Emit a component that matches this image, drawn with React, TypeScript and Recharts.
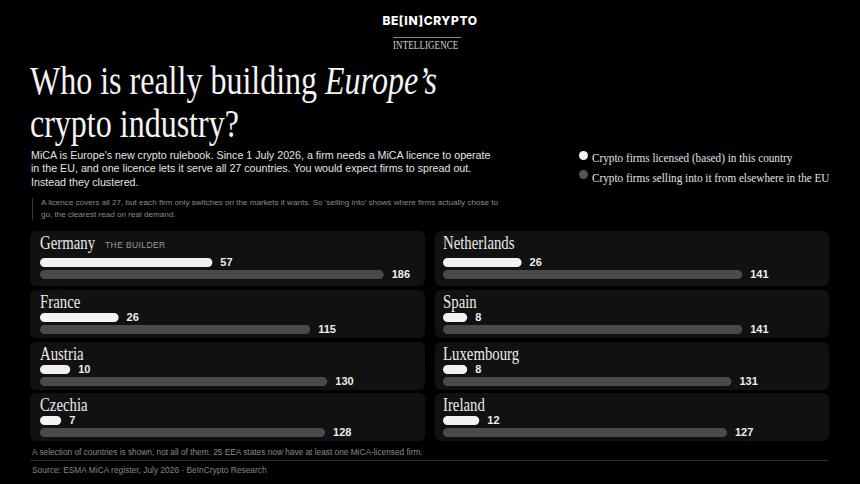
import * as React from "react";
import { BarChart, Bar, XAxis, YAxis, LabelList } from "recharts";

// Order: left column top→bottom, then right column top→bottom
const COUNTRIES = ["Germany", "France", "Austria", "Czechia", "Netherlands", "Spain", "Luxembourg", "Ireland"];
const LICENSED = [57, 26, 10, 7, 26, 8, 8, 12];
const SELLING = [186, 115, 130, 128, 141, 141, 131, 127];
const TAGS: Record<string, string> = { Germany: "THE BUILDER" };

const LICENSED_DOMAIN = [0, 125];
const SELLING_DOMAIN = [0, 225];

const BG = "#000000";
const PANEL_BG = "#111111";
const COR_LICENCIADO = "#f2f2f2";
const COR_VENDENDO = "#4a4a4a";
const SERIF = "'Liberation Serif', 'Times New Roman', serif";
const SANS = "'Liberation Sans', Arial, sans-serif";

const PLOT_W = 378;
const ROW_TOPS = [231, 290, 342, 393];
const ROW_HEIGHTS = [55, 48, 48, 48];
const COLS = [
  { panelX: 30, panelW: 395, contentX: 40 },
  { panelX: 435, panelW: 394, contentX: 443 },
];

// condensed serif — the reference uses a narrow display serif, so squeeze Liberation
function Serif({ size, scale = 0.8, italic, children }: { size: number; scale?: number; italic?: boolean; children: React.ReactNode }) {
  return (
    <span
      style={{
        display: "inline-block",
        fontFamily: SERIF,
        fontSize: size,
        fontStyle: italic ? "italic" : "normal",
        transform: `scaleX(${scale})`,
        transformOrigin: "0 0",
        whiteSpace: "nowrap",
      }}
    >
      {children}
    </span>
  );
}

function BarRow({ value, kind }: { value: number; kind: "lic" | "sell" }) {
  const isLic = kind === "lic";
  return (
    <BarChart
      width={PLOT_W}
      height={13}
      data={[{ name: kind, value }]}
      layout="vertical"
      margin={{ top: 0, right: 0, bottom: 0, left: 0 }}
      style={{ overflow: "visible" }}
    >
      <XAxis type="number" hide domain={isLic ? LICENSED_DOMAIN : SELLING_DOMAIN} scale={isLic ? "linear" : "sqrt"} />
      <YAxis type="category" dataKey="name" hide />
      <Bar dataKey="value" fill={isLic ? COR_LICENCIADO : COR_VENDENDO} barSize={9} radius={4.5} isAnimationActive={false}>
        <LabelList
          dataKey="value"
          position="right"
          offset={8}
          fill="#ededed"
          fontSize={11}
          fontFamily={SANS}
          fontWeight={600}
        />
      </Bar>
    </BarChart>
  );
}

function Painel({ i }: { i: number }) {
  const col = COLS[Math.floor(i / 4)];
  const row = i % 4;
  const top = ROW_TOPS[row];
  const h = ROW_HEIGHTS[row];
  const extra = row === 0 ? 4.5 : 0;
  const nome = COUNTRIES[i];
  const tag = TAGS[nome];
  return (
    <>
      <div
        style={{
          position: "absolute",
          left: col.panelX,
          top,
          width: col.panelW,
          height: h,
          background: PANEL_BG,
          borderRadius: 6,
        }}
      />
      <div style={{ position: "absolute", left: col.contentX, top: top + 3, lineHeight: "18px", color: "#ececec" }}>
        <Serif size={18.5}>{nome}</Serif>
      </div>
      {tag && (
        <div
          style={{
            position: "absolute",
            left: col.contentX + 65,
            top: top + 9,
            fontFamily: SANS,
            fontSize: 8.5,
            letterSpacing: 0.4,
            color: "#9a9a9a",
            lineHeight: "10px",
          }}
        >
          {tag}
        </div>
      )}
      <div style={{ position: "absolute", left: col.contentX, top: top + 20.5 + extra }}>
        <BarRow value={LICENSED[i]} kind="lic" />
      </div>
      <div style={{ position: "absolute", left: col.contentX, top: top + 32.5 + extra }}>
        <BarRow value={SELLING[i]} kind="sell" />
      </div>
    </>
  );
}

export default function App() {
  return (
    <div style={{ position: "absolute", left: 0, top: 0, width: 860, height: 484, background: BG, overflow: "hidden", color: "#fff" }}>
      {/* logo */}
      <div
        style={{
          position: "absolute",
          left: 0,
          width: 860,
          top: 14,
          textAlign: "center",
          fontFamily: "Inter, sans-serif",
          fontWeight: 800,
          fontSize: 12,
          letterSpacing: 0.6,
          lineHeight: "14px",
        }}
      >
        BE[IN]CRYPTO
      </div>
      <div style={{ position: "absolute", left: 393, top: 37, width: 68, height: 1, background: "#8a8a8a" }} />
      <div style={{ position: "absolute", left: 393, top: 38, lineHeight: "12px", color: "#d8d8d8" }}>
        <span style={{ letterSpacing: 0.2 }}>
          <Serif size={12} scale={0.74}>INTELLIGENCE</Serif>
        </span>
      </div>

      {/* title */}
      <div style={{ position: "absolute", left: 30, top: 63, lineHeight: "35px", color: "#f4f4f4" }}>
        <div>
          <Serif size={40} scale={0.8}>
            Who is really building <i>Europe’s</i>
          </Serif>
        </div>
        <div>
          <Serif size={40} scale={0.8}>crypto industry?</Serif>
        </div>
      </div>

      {/* intro */}
      <div
        style={{
          position: "absolute",
          left: 31,
          top: 148.5,
          fontFamily: SANS,
          fontSize: 10.7,
          lineHeight: "13.5px",
          color: "#e4e4e4",
          whiteSpace: "nowrap",
        }}
      >
        MiCA is Europe's new crypto rulebook. Since 1 July 2026, a firm needs a MiCA licence to operate
        <br />
        in the EU, and one licence lets it serve all 27 countries. You would expect firms to spread out.
        <br />
        Instead they clustered.
      </div>
      <div style={{ position: "absolute", left: 32, top: 198, width: 1, height: 22, background: "#3a3a3a" }} />
      <div
        style={{
          position: "absolute",
          left: 41,
          top: 197,
          fontFamily: SANS,
          fontSize: 8.1,
          lineHeight: "12px",
          color: "#8c8c8c",
          whiteSpace: "nowrap",
        }}
      >
        A licence covers all 27, but each firm only switches on the markets it wants. So 'selling into' shows where firms actually chose to
        <br />
        go, the clearest read on real demand.
      </div>

      {/* legend */}
      <div style={{ position: "absolute", left: 578.5, top: 150.5, width: 9, height: 9, borderRadius: 5, background: COR_LICENCIADO }} />
      <div style={{ position: "absolute", left: 578.5, top: 169.5, width: 9, height: 9, borderRadius: 5, background: "#555" }} />
      <div style={{ position: "absolute", left: 592, top: 146.5, lineHeight: "19px", color: "#e0e0e0" }}>
        <div>
          <Serif size={13.5} scale={0.83}>Crypto firms licensed (based) in this country</Serif>
        </div>
        <div>
          <Serif size={13.5} scale={0.83}>Crypto firms selling into it from elsewhere in the EU</Serif>
        </div>
      </div>

      {COUNTRIES.map((_, i) => (
        <Painel key={i} i={i} />
      ))}

      {/* footer */}
      <div
        style={{
          position: "absolute",
          left: 32,
          top: 446.5,
          fontFamily: SANS,
          fontSize: 8.3,
          lineHeight: "10px",
          color: "#8a8a8a",
          whiteSpace: "nowrap",
        }}
      >
        A selection of countries is shown, not all of them. 25 EEA states now have at least one MiCA-licensed firm.
      </div>
      <div style={{ position: "absolute", left: 30, top: 460, width: 798, height: 1, background: "#2a2a2a" }} />
      <div
        style={{
          position: "absolute",
          left: 32,
          top: 465,
          fontFamily: SANS,
          fontSize: 8.4,
          lineHeight: "10px",
          color: "#858585",
          whiteSpace: "nowrap",
        }}
      >
        Source: ESMA MiCA register, July 2026 · BeInCrypto Research
      </div>
    </div>
  );
}
